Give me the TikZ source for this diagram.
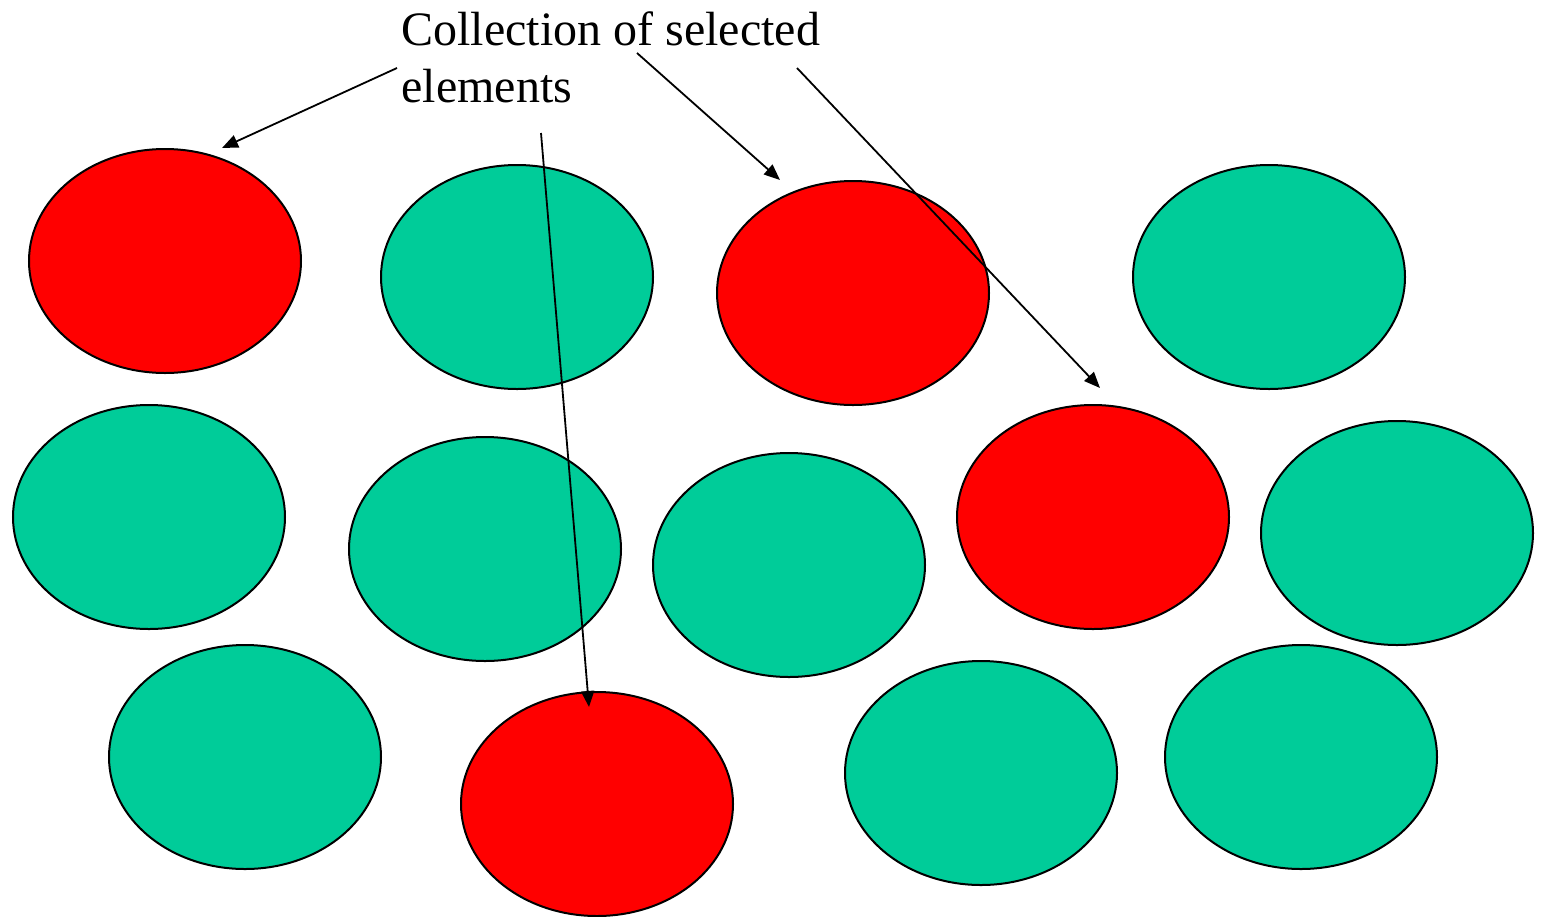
\documentclass[tikz,border=0pt]{standalone}
\usepackage{fontspec}
\setmainfont{Liberation Serif}
\usetikzlibrary{shapes.geometric,arrows.meta}
\definecolor{selred}{HTML}{FF0000}
\definecolor{elgreen}{HTML}{00CC99}
\tikzset{
  elem/.style={ellipse, draw=black, line width=1pt, minimum width=136pt, minimum height=112pt, inner sep=0pt},
  sel/.style={elem, fill=selred},
  plain/.style={elem, fill=elgreen},
  pointer/.style={line width=0.9pt, -{Triangle[length=8pt,width=6.5pt]}},
  lbl/.style={font=\fontsize{24pt}{28.5pt}\selectfont, inner sep=0pt, anchor=base west}
}
\begin{document}
\begin{tikzpicture}[x=0.5pt,y=-0.5pt]
\useasboundingbox (0,0) rectangle (1541,916);
% elements
\node[sel]   (e1)  at (165,261) {};
\node[plain] (e2)  at (517,277) {};
\node[sel]   (e3)  at (853,293) {};
\node[plain] (e4)  at (1269,277) {};
\node[plain] (e5)  at (149,517) {};
\node[plain] (e6)  at (485,549) {};
\node[plain] (e7)  at (789,565) {};
\node[sel]   (e8)  at (1093,517) {};
\node[plain] (e9)  at (1397,533) {};
\node[plain] (e10) at (245,757) {};
\node[sel]   (e11) at (597,804) {};
\node[plain] (e12) at (981,773) {};
\node[plain] (e13) at (1301,757) {};
% label
\node[lbl] (lab1) at (401,45) {Collection of selected};
\node[lbl] (lab2) at (401,102) {elements};
% pointer ends
\coordinate (s1) at (397,68);
\coordinate (t1) at (222,148);
\coordinate (s2) at (637,53);
\coordinate (t2) at (780,180);
\coordinate (s3) at (797,68);
\coordinate (t3) at (1100,388);
\coordinate (s4) at (541,133);
\coordinate (t4) at (589,707);
\draw[pointer] (s1) -- (t1);
\draw[pointer] (s2) -- (t2);
\draw[pointer] (s3) -- (t3);
\draw[pointer] (s4) -- (t4);
\end{tikzpicture}
\end{document}
